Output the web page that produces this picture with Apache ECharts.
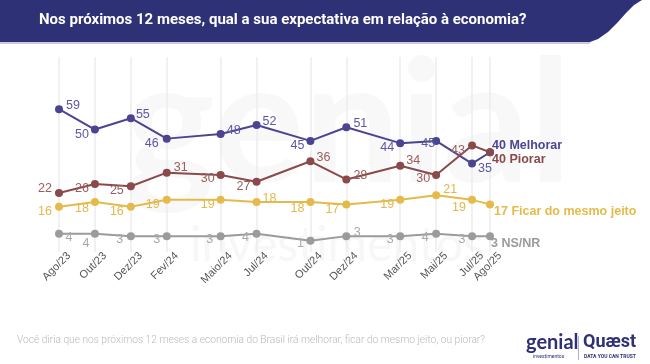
<!DOCTYPE html>
<html>
<head>
<meta charset="utf-8">
<script src="https://cdn.jsdelivr.net/npm/echarts@6/dist/echarts.min.js"></script>
<style>
html,body{margin:0;padding:0;background:#fff;}
#chart{width:650px;height:364px;}
</style>
</head>
<body>
<div id="chart"></div>
<script>
// ---- data ----
var surveyLabels = ['Ago/23','Out/23','Dez/23','Fev/24','Maio/24','Jul/24','Out/24','Dez/24','Mar/25','Mai/25','Jul/25','Ago/25'];
var monthIndex = [0, 2, 4, 6, 9, 11, 14, 16, 19, 21, 23, 24]; // months since Ago/23
var melhorar = [59, 50, 55, 46, 48, 52, 45, 51, 44, 45, 35, 40];
var piorar   = [22, 26, 25, 31, 30, 27, 36, 28, 34, 30, 43, 40];
var ficar    = [16, 18, 16, 19, 19, 18, 18, 17, 19, 21, 19, 17];
var nsnr     = [4, 4, 3, 3, 3, 4, 1, 3, 3, 4, 3, 3];
var seriesNames = ['Melhorar', 'Piorar', 'Ficar do mesmo jeito', 'NS/NR'];

// ---- styles ----
var lineColors  = ['#4b4591', '#8a4a4b', '#e4bb4b', '#9b9b9b'];
var labelColors = ['#5d57a3', '#9a5d5d', '#e2b84c', '#a8a8a8'];
var labelOffsets = [
  [[14,-4],[-13,5],[12,-4],[-15,5],[13,-4],[13,-3],[-13,5],[14,-4],[-13,4],[-8,3],[13,5],[2,-7]],
  [[-14,-4],[-13,5],[-14,4],[14,-5],[-13,4],[-13,5],[13,-4],[14,-4],[13,-5],[-13,4],[-14,5],[2,7]],
  [[-14,5],[-13,6],[-14,5],[-14,5],[-13,5],[13,-4],[-13,6],[-14,5],[-13,5],[14,-6],[-13,8],[4,7]],
  [[10,4],[-9,10],[-11,3],[-10,3],[-11,3],[-11,4],[-10,3],[11,-4],[-10,3],[-11,4],[-10,3],[1,7]]
];

var totalMonths = monthIndex[monthIndex.length - 1] + 1;
var axisCats = [];
for (var i = 0; i < totalMonths; i++) {
  var k = monthIndex.indexOf(i);
  axisCats.push(k >= 0 ? surveyLabels[k] : '');
}

function buildSeries(values, si) {
  var arr = [];
  for (var i = 0; i < totalMonths; i++) arr.push(null);
  values.forEach(function (v, j) {
    var last = j === values.length - 1;
    var off = labelOffsets[si][j];
    arr[monthIndex[j]] = {
      value: v,
      label: last ? {
        show: true, position: 'inside', align: 'left', verticalAlign: 'middle',
        offset: off, formatter: v + ' ' + seriesNames[si],
        fontWeight: 'bold', fontSize: 12.5, color: lineColors[si]
      } : {
        show: true, position: 'inside', align: 'center', verticalAlign: 'middle',
        offset: off, formatter: String(v), color: labelColors[si], fontSize: 12.5
      }
    };
  });
  return {
    type: 'line',
    name: seriesNames[si],
    data: arr,
    connectNulls: true,
    symbol: 'circle',
    symbolSize: 8,
    lineStyle: { color: lineColors[si], width: 2 },
    itemStyle: { color: lineColors[si] },
    label: { fontFamily: 'Liberation Sans, Arial, sans-serif' },
    z: 3
  };
}

var chart = echarts.init(document.getElementById('chart'), null, { renderer: 'canvas' });
chart.setOption({
  backgroundColor: '#ffffff',
  animation: false,
  grid: { left: 59, right: 160, top: 57, bottom: 112 },
  xAxis: {
    type: 'category',
    data: axisCats,
    boundaryGap: false,
    axisLine: { show: false },
    axisTick: { show: false },
    splitLine: {
      show: true,
      interval: function (idx) { return monthIndex.indexOf(idx) >= 0; },
      lineStyle: { color: '#ececec', width: 1.5 }
    },
    axisLabel: {
      interval: 0,
      rotate: 45,
      margin: 12,
      padding: [0, -14, 0, 0],
      color: '#555555',
      fontSize: 11,
      fontFamily: 'Liberation Sans, Arial, sans-serif'
    }
  },
  yAxis: {
    type: 'value',
    min: -4,
    max: 82,
    show: false,
    splitLine: { show: false }
  },
  series: [
    buildSeries(melhorar, 0),
    buildSeries(piorar, 1),
    buildSeries(ficar, 2),
    buildSeries(nsnr, 3)
  ],
  graphic: [
    // watermark
    { type: 'text', x: 125, y: 42, z: -10, silent: true,
      style: { text: 'genial', font: 'bold 170px Lato, sans-serif', fill: '#f8f8f9' } },
    { type: 'text', x: 190, y: 222, z: -10, silent: true,
      style: { text: 'investimentos', font: '48px Lato, sans-serif', fill: '#f7f7f8' } },
    // title bar
    { type: 'polygon', z: 10, silent: true,
      shape: { points: [[0,0],[642,0],[634,5],[626,13],[618,22],[608,32],[598,39],[590,42],[0,42]] },
      style: { fill: '#2e3175' } },
    { type: 'rect', z: 10, silent: true,
      shape: { x: 0, y: 42, width: 590, height: 2 },
      style: { fill: '#c9cadd' } },
    { type: 'text', x: 39, y: 13, z: 11, silent: true,
      style: { text: 'Nos próximos 12 meses, qual a sua expectativa em relação à economia?',
               font: 'bold 15px Roboto, sans-serif', fill: '#ffffff' } },
    // footer
    { type: 'text', x: 17, y: 335, z: 11, silent: true,
      style: { text: 'Você diria que nos próximos 12 meses a economia do Brasil irá melhorar, ficar do mesmo jeito, ou piorar?',
               font: '300 10.2px Roboto, sans-serif', fill: '#b9b9b9' } },
    // logos
    { type: 'text', x: 526, y: 333, z: 11, silent: true,
      style: { text: 'genial', font: 'bold 20px Lato, sans-serif', fill: '#2e3175' } },
    { type: 'text', x: 533, y: 354, z: 11, silent: true,
      style: { text: 'investimentos', font: '5px Roboto, sans-serif', fill: '#2e3175' } },
    { type: 'rect', z: 11, silent: true,
      shape: { x: 578, y: 336, width: 1, height: 24 },
      style: { fill: '#b0b2cc' } },
    { type: 'text', x: 583, y: 333, z: 11, silent: true,
      style: { text: 'Quæst', font: 'bold 18px Roboto, sans-serif', fill: '#2e3175' } },
    { type: 'text', x: 584, y: 354, z: 11, silent: true,
      style: { text: 'DATA YOU CAN TRUST', font: 'bold 5px Roboto, sans-serif', fill: '#2e3175' } }
  ]
});
</script>
</body>
</html>
